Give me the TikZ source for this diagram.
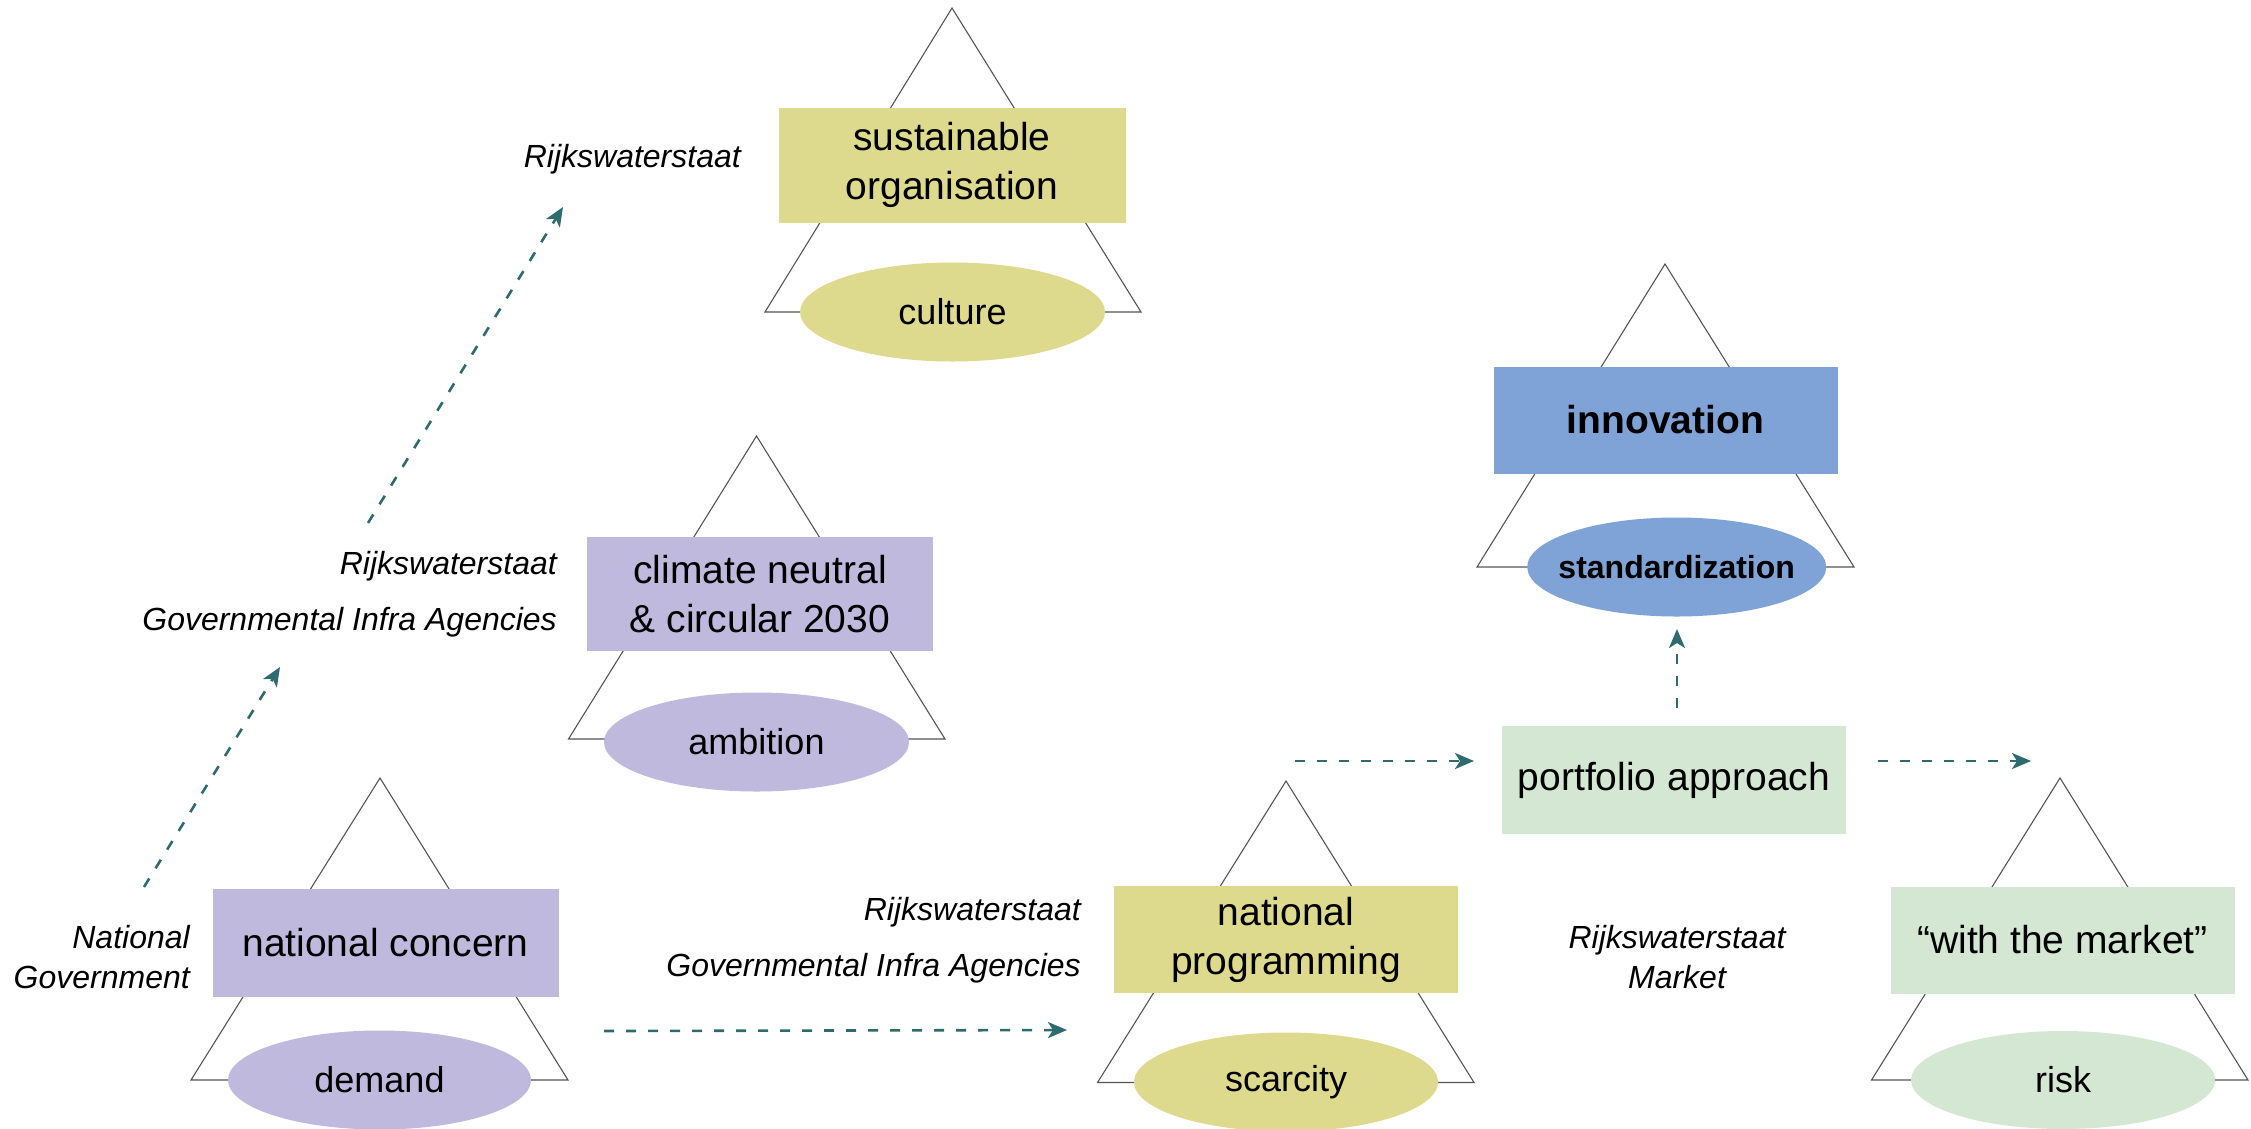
\documentclass[tikz,border=0pt]{standalone}
\usepackage{fontspec}
\setmainfont{Liberation Sans}
\usetikzlibrary{shapes.geometric,arrows.meta}
\definecolor{lav}{HTML}{BFB9DD}
\definecolor{olivey}{HTML}{DDDA8E}
\definecolor{cblue}{HTML}{7FA3D6}
\definecolor{mint}{HTML}{D4E7D2}
\definecolor{tealdk}{HTML}{2E6B6E}
\definecolor{triline}{HTML}{555555}
\begin{document}
\begin{tikzpicture}[x=1pt,y=-1pt,
  box/.style={rectangle, inner sep=0pt, align=center, font=\fontsize{39}{49}\selectfont},
  oval/.style={ellipse, inner sep=0pt, font=\fontsize{36}{40}\selectfont},
  lbl/.style={inner sep=0pt, font=\fontsize{32}{38}\selectfont\itshape},
  flow/.style={draw=tealdk, line width=2.6pt, dash pattern=on 10pt off 12pt,
    -{Stealth[length=19pt,width=16pt,inset=5pt]}},
  tri/.style={draw=triline, line width=1.1pt}]
\useasboundingbox[fill=white] (0,0) rectangle (2251,1128);

% triangles
\draw[tri] (952,8) coordinate (t1a) -- (765,312) coordinate (t1l) -- (1141,312) coordinate (t1r) -- cycle;
\draw[tri] (756.5,436) coordinate (t2a) -- (568.5,739) coordinate (t2l) -- (945,739) coordinate (t2r) -- cycle;
\draw[tri] (380,778) coordinate (t3a) -- (191,1080) coordinate (t3l) -- (568,1080) coordinate (t3r) -- cycle;
\draw[tri] (1665,264) coordinate (t4a) -- (1477,567) coordinate (t4l) -- (1854,567) coordinate (t4r) -- cycle;
\draw[tri] (1286,781) coordinate (t5a) -- (1097.5,1082.5) coordinate (t5l) -- (1474,1082.5) coordinate (t5r) -- cycle;
\draw[tri] (2060,778) coordinate (t6a) -- (1871.5,1080) coordinate (t6l) -- (2248,1080) coordinate (t6r) -- cycle;

% boxes
\node[box, fill=olivey, minimum width=347pt, minimum height=115pt] (sust) at (952,165) {sustainable\\organisation};
\node[oval, fill=olivey, minimum width=305pt, minimum height=99pt] (cult) at (952.5,312) {culture};

\node[box, fill=lav, minimum width=346pt, minimum height=114pt] (clim) at (760,594) {climate neutral\\\& circular 2030};
\node[oval, fill=lav, minimum width=305pt, minimum height=99pt] (ambi) at (756.5,742) {ambition};

\node[box, fill=lav, minimum width=346pt, minimum height=108pt] (natc) at (385.5,942.5) {national concern};
\node[oval, fill=lav, minimum width=303pt, minimum height=99pt] (dema) at (379.5,1080) {demand};

\node[box, fill=cblue, minimum width=344pt, minimum height=107pt, font=\fontsize{39}{49}\selectfont\bfseries] (inno) at (1665.5,420) {innovation};
\node[oval, fill=cblue, minimum width=299pt, minimum height=99pt,
  label={[font=\fontsize{32}{38}\selectfont\bfseries, inner sep=0pt]center:standardization}] (stan) at (1676.7,567) {};

\node[box, fill=olivey, minimum width=344pt, minimum height=107pt] (natp) at (1286,939.5) {national\\programming};
\node[oval, fill=olivey, minimum width=304pt, minimum height=99pt] (scar) at (1286,1082) {scarcity};

\node[box, fill=mint, minimum width=344pt, minimum height=108pt] (port) at (1674,780) {portfolio approach};

\node[box, fill=mint, minimum width=344pt, minimum height=107pt] (mark) at (2062.5,940) {“with the market”};
\node[oval, fill=mint, minimum width=304pt, minimum height=98pt] (risk) at (2063,1080) {risk};

% labels
\node[lbl, anchor=base east] (rws1) at (741,167) {Rijkswaterstaat};
\node[lbl, anchor=base east] (rws2) at (557,574) {Rijkswaterstaat};
\node[lbl, anchor=base east] (gia2) at (557,630) {Governmental Infra Agencies};
\node[lbl, anchor=base east] (rws3) at (1081,920) {Rijkswaterstaat};
\node[lbl, anchor=base east] (gia3) at (1081,976) {Governmental Infra Agencies};
\node[lbl, anchor=base east] (ng1) at (190,948) {National};
\node[lbl, anchor=base east] (ng2) at (190,988) {Government};
\node[lbl, anchor=base] (rm1) at (1677,948) {Rijkswaterstaat};
\node[lbl, anchor=base] (rm2) at (1677,988) {Market};

% arrows
\coordinate (a1s) at (144,887);  \coordinate (a1e) at (280,667);
\coordinate (a2s) at (368,523);  \coordinate (a2e) at (563,207);
\coordinate (a3s) at (604,1031); \coordinate (a3e) at (1067,1030);
\coordinate (a4s) at (1295,761); \coordinate (a4e) at (1474,761);
\coordinate (a5s) at (1878,761); \coordinate (a5e) at (2031,761);
\coordinate (a6s) at (1677,708); \coordinate (a6e) at (1677,629);
\draw[flow] (a1s) -- (a1e);
\draw[flow] (a2s) -- (a2e);
\draw[flow] (a3s) -- (a3e);
\draw[flow] (a4s) -- (a4e);
\draw[flow] (a5s) -- (a5e);
\draw[flow] (a6s) -- (a6e);
\end{tikzpicture}
\end{document}
